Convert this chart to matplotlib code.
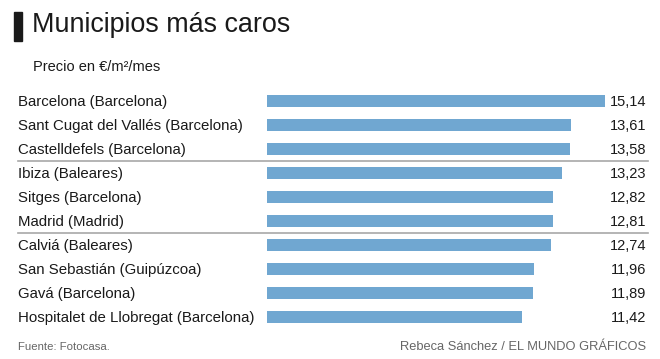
import matplotlib

matplotlib.use("Agg")
import matplotlib.pyplot as plt
from matplotlib.lines import Line2D
from matplotlib.transforms import blended_transform_factory

municipios = [
    "Barcelona (Barcelona)",
    "Sant Cugat del Vallés (Barcelona)",
    "Castelldefels (Barcelona)",
    "Ibiza (Baleares)",
    "Sitges (Barcelona)",
    "Madrid (Madrid)",
    "Calviá (Baleares)",
    "San Sebastián (Guipúzcoa)",
    "Gavá (Barcelona)",
    "Hospitalet de Llobregat (Barcelona)",
]
precios = [15.14, 13.61, 13.58, 13.23, 12.82, 12.81, 12.74, 11.96, 11.89, 11.42]
separadores = [2.5, 5.5]

W, H = 660, 359
plt.rcParams["font.family"] = ["Liberation Sans", "DejaVu Sans"]

fig = plt.figure(figsize=(W / 100, H / 100), dpi=100)
fig.patch.set_facecolor("white")

# axes: bars start at x=267px, rows centered 101..317px from top
ax = fig.add_axes([267 / W, 30 / H, 378 / W, 240 / H])
ax.barh(range(len(precios)), precios, height=0.52, color="#70a7d1")
ax.set_xlim(0, 378 / 22.33)
ax.set_ylim(len(precios) - 0.5, -0.5)
ax.axis("off")

tr = blended_transform_factory(fig.transFigure, ax.transData)
for i, (name, val) in enumerate(zip(municipios, precios)):
    fig.text(18 / W, i + 0.05, name, transform=tr, ha="left", va="center",
             fontsize=10.8, color="#1a1a1a")
    fig.text(646 / W, i + 0.05, f"{val:.2f}".replace(".", ","), transform=tr,
             ha="right", va="center", fontsize=10.5, color="#1a1a1a")

for y in separadores:
    fig.add_artist(Line2D([18 / W, 648 / W], [y, y], transform=tr,
                          color="#a8a8a8", lw=1.2))

# title block
fig.add_artist(plt.Rectangle((14 / W, 1 - 41 / H), 8 / W, 29 / H,
                             transform=fig.transFigure, color="#1a1a1a"))
fig.text(32 / W, 1 - 25 / H, "Municipios más caros", ha="left", va="center",
         fontsize=19.4, color="#1a1a1a")
fig.text(33 / W, 1 - 67 / H, "Precio en €/m²/mes", ha="left", va="center",
         fontsize=10.5, color="#1a1a1a")

fig.text(18 / W, 1 - 347 / H, "Fuente: Fotocasa.", ha="left", va="center",
         fontsize=8.2, color="#666666")
fig.text(646 / W, 1 - 347 / H, "Rebeca Sánchez / EL MUNDO GRÁFICOS",
         ha="right", va="center", fontsize=9.3, color="#666666")

fig.savefig("out.png", dpi=100, facecolor="white")
